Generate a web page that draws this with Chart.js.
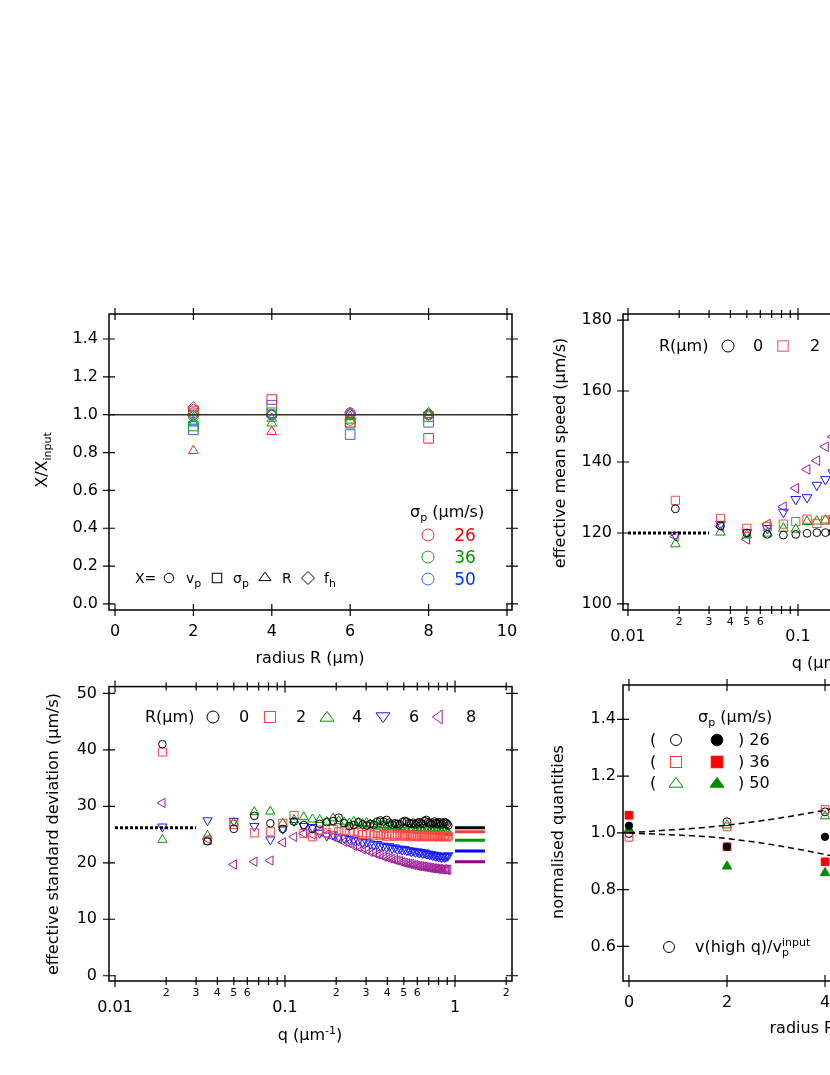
<!DOCTYPE html>
<html>
<head>
<meta charset="utf-8">
<title>Effective speed and deviation vs q and radius</title>
<script src="https://cdn.jsdelivr.net/npm/chart.js@4.4.1/dist/chart.umd.min.js"></script>
<style>
  html, body { margin: 0; padding: 0; background: #fff; }
  body { position: relative; width: 830px; height: 1075px; overflow: hidden; font-family: "DejaVu Sans", sans-serif; color: #000; }
  canvas { position: absolute; }
  .lab { position: absolute; white-space: nowrap; font-size: 16px; line-height: 1; }
  .c { transform: translate(-50%, -50%); }
  .l { transform: translate(0, -50%); }
  .rot { transform: translate(-50%, -50%) rotate(-90deg); }
  .lab sub, .lab sup { font-size: 11px; line-height: 0; }
  svg { display: block; }
</style>
</head>
<body>
<canvas id="panelA" width="540" height="400" style="left:0;top:280px"></canvas>
<canvas id="panelB" width="540" height="400" style="left:540px;top:280px"></canvas>
<canvas id="panelC" width="540" height="410" style="left:0;top:665px"></canvas>
<canvas id="panelD" width="540" height="410" style="left:540px;top:665px"></canvas>
<script>
// ---- panel A : X / X_input against radius
const radiusA = [2, 4, 6, 8];
const vp26 = [1.01, 1.00, 1.01, 1.00];
const vp36 = [0.99, 1.00, 0.97, 1.00];
const vp50 = [1.00, 1.00, 1.00, 1.00];
const sig26 = [1.02, 1.08, 0.96, 0.875];
const sig36 = [0.94, 1.01, 0.955, 0.99];
const sig50 = [0.92, 1.05, 0.895, 0.96];
const rad26 = [0.81, 0.91, 0.99, 1.00];
const rad36 = [0.955, 0.955, 0.97, 1.01];
const rad50 = [0.965, 0.98, 1.01, 1.00];
const fh26 = [1.03, 1.00, 1.01, 1.00];
const fh36 = [0.995, 1.00, 1.00, 1.00];
const fh50 = [1.04, 1.00, 1.00, 1.00];

// ---- q values shared by panels B and C
const qVals = [0.019, 0.035, 0.050, 0.066, 0.082, 0.097, 0.113, 0.129, 0.145, 0.160,
  0.176, 0.192, 0.207, 0.223, 0.239, 0.254, 0.270, 0.286, 0.302, 0.317,
  0.333, 0.349, 0.364, 0.380, 0.396, 0.411, 0.427, 0.443, 0.458, 0.474,
  0.490, 0.505, 0.521, 0.537, 0.553, 0.568, 0.584, 0.600, 0.615, 0.631,
  0.647, 0.662, 0.678, 0.694, 0.709, 0.725, 0.741, 0.756, 0.772, 0.788,
  0.803, 0.819, 0.835, 0.851, 0.866, 0.882, 0.898, 0.913];

// ---- panel B : effective mean speed (only the low-q part is in view)
const qMean = [0.019, 0.035, 0.050, 0.066, 0.082, 0.097, 0.113, 0.129, 0.145, 0.160];
const meanR0 = [126.8, 122.0, 120.0, 119.6, 119.4, 119.6, 119.9, 120.1, 120.1, 120.2];
const meanR2 = [129.2, 124.1, 121.3, 121.8, 122.5, 123.2, 123.9, 122.7, 123.6, 123.8];
const meanR4 = [116.9, 120.2, 119.4, 119.9, 121.3, 121.0, 123.2, 123.3, 123.6, 123.5];
const meanR6 = [119.4, 122.5, 120.2, 121.3, 125.9, 129.5, 130.0, 133.5, 135.1, 137.0];
const meanR8 = [119.0, 121.8, 118.2, 122.5, 127.4, 132.6, 137.9, 140.4, 144.3, 147.1];
const meanInput = 120;

// ---- panel C : effective standard deviation
const sdR0 = [41.0, 23.8, 26.0, 28.3, 27.0, 26.0, 27.3, 26.7, 26.0, 26.9,
  27.2, 27.4, 28.0, 27.0, 26.5, 26.7, 27.2, 26.8, 26.6, 26.9,
  26.7, 27.3, 27.5, 27.3, 27.6, 27.1, 26.8, 27.0, 26.9, 26.8,
  27.2, 27.4, 27.3, 27.0, 26.9, 27.1, 26.8, 27.0, 27.2, 27.0,
  26.9, 27.4, 27.6, 27.2, 27.0, 26.8, 27.1, 27.3, 27.0, 26.9,
  27.2, 27.1, 26.8, 27.0, 27.2, 27.1, 26.9, 26.6];
const sdR2 = [39.6, 24.0, 26.8, 25.3, 25.5, 27.0, 28.4, 25.2, 24.6, 25.8,
  25.3, 25.9, 25.5, 25.7, 25.2, 25.6, 25.4, 25.0, 25.3, 25.1,
  24.9, 25.2, 24.8, 25.0, 24.7, 25.1, 24.9, 24.7, 25.0, 24.8,
  24.9, 24.7, 25.0, 24.8, 24.6, 24.9, 24.7, 24.8, 24.6, 24.9,
  24.7, 24.8, 24.6, 24.9, 24.7, 24.8, 24.6, 24.8, 24.7, 24.9,
  24.6, 24.8, 24.7, 24.6, 24.8, 24.7, 24.6, 24.7];
const sdR4 = [24.1, 24.8, 27.1, 29.0, 29.1, 27.0, 27.6, 28.1, 27.7, 27.6,
  27.3, 27.9, 27.4, 27.2, 27.0, 27.3, 27.1, 26.9, 27.1, 26.8,
  26.7, 26.9, 26.6, 26.7, 26.4, 26.6, 26.3, 26.5, 26.2, 26.4,
  25.9, 26.1, 25.8, 26.0, 25.9, 26.1, 25.8, 26.0, 25.7, 25.9,
  25.8, 26.0, 25.7, 25.9, 25.6, 25.8, 25.7, 25.9, 25.6, 25.8,
  25.5, 25.7, 25.6, 25.8, 25.5, 25.7, 25.4, 25.3];
const sdR6 = [26.4, 27.5, 27.4, 26.5, 24.1, 26.0, 27.4, 26.5, 26.3, 25.3,
  24.8, 25.0, 24.6, 24.4, 24.2, 24.0, 23.9, 23.6, 23.7, 23.4,
  23.2, 23.3, 23.0, 23.0, 22.8, 22.9, 22.6, 22.7, 22.4, 22.5,
  22.3, 22.4, 22.2, 22.2, 22.0, 22.1, 21.9, 22.0, 21.8, 21.9,
  21.7, 21.8, 21.6, 21.6, 21.5, 21.5, 21.3, 21.4, 21.2, 21.3,
  21.1, 21.2, 21.0, 21.2, 21.0, 21.1, 21.2, 21.3];
const sdR8 = [30.6, 24.2, 19.7, 20.2, 20.4, 23.6, 24.6, 25.2, 25.0, 25.5,
  25.0, 24.6, 24.2, 23.7, 23.5, 23.0, 22.8, 22.4, 22.3, 21.9,
  21.8, 21.5, 21.4, 21.1, 21.0, 20.8, 20.7, 20.5, 20.4, 20.3,
  20.1, 20.0, 19.9, 19.8, 19.8, 19.6, 19.6, 19.5, 19.4, 19.4,
  19.3, 19.3, 19.2, 19.2, 19.1, 19.1, 19.0, 19.0, 19.0, 18.9,
  18.9, 18.9, 18.8, 18.8, 18.9, 18.8, 18.7, 18.8];
const sdInput = 26.2;
const qPlateau = [1, 1.5];
const sdPlateau = [26.2, 25.5, 24.0, 22.1, 20.2];   // R = 0, 2, 4, 6, 8

// ---- panel D : normalised quantities against radius
const radiusD = [0, 2, 4];
const vRatio26 = [0.998, 1.039, 1.074];
const vRatio36 = [0.984, 1.021, 1.082];
const vRatio50 = [1.010, 1.027, 1.059];
const sRatio26 = [1.025, 0.951, 0.986];
const sRatio36 = [1.062, 0.951, 0.898];
const sRatio50 = [1.013, 0.882, 0.859];
const guideR = [0, 2, 4, 6];
const guideUp = [1.0, 1.027, 1.08, 1.16];
const guideDown = [1.0, 0.98, 0.924, 0.84];

// ---- tick labels
const ticksAx = [0, 2, 4, 6, 8, 10];
const ticksAy = [0, 0.2, 0.4, 0.6, 0.8, 1.0, 1.2, 1.4];
const ticksQ = [0.01, 0.02, 0.03, 0.04, 0.05, 0.06, 0.07, 0.08, 0.09,
  0.1, 0.2, 0.3, 0.4, 0.5, 0.6, 0.7, 0.8, 0.9, 1, 2];
const ticksBy = [100, 120, 140, 160, 180];
const ticksCy = [0, 10, 20, 30, 40, 50];
const ticksDx = [0, 2, 4, 6, 8];
const ticksDy = [0.6, 0.8, 1.0, 1.2, 1.4];

Chart.defaults.font.family = '"DejaVu Sans", sans-serif';
Chart.defaults.color = '#000';

const isDecade = v => Math.abs(Math.log10(v) - Math.round(Math.log10(v))) < 1e-9;
function qLabel(v) {
  if (isDecade(v)) return ['', String(v)];
  const d = Math.round(v / Math.pow(10, Math.floor(Math.log10(v) + 1e-9)));
  return d <= 6 ? String(d) : '';
}

const pts = (xs, ys) => xs.map((x, i) => ({x: x, y: ys[i]}));

function marks(xs, ys, style, color, r, rot, filled) {
  return {
    data: pts(xs, ys), showLine: false, pointStyle: style, pointRadius: r, pointRotation: rot || 0,
    pointBorderColor: color, borderColor: color, pointBorderWidth: 1,
    pointBackgroundColor: filled ? color : 'rgba(0,0,0,0)'
  };
}
function line(xs, ys, color, width, dash) {
  return {
    data: pts(xs, ys), showLine: true, pointRadius: 0, borderColor: color, borderWidth: width,
    borderDash: dash || [], fill: false, borderCapStyle: 'butt'
  };
}

// box frame with crossing ticks on all four sides
const frame = {
  id: 'frame',
  afterDatasetsDraw(chart) {
    const {ctx, chartArea: a} = chart;
    const xs = chart.scales.x, ys = chart.scales.y;
    ctx.save();
    ctx.strokeStyle = '#000';
    ctx.lineWidth = 1.5;
    ctx.strokeRect(a.left, a.top, a.right - a.left, a.bottom - a.top);
    ctx.lineWidth = 1.2;
    ctx.beginPath();
    xs.ticks.forEach(t => {
      const p = xs.getPixelForValue(t.value);
      const h = t.major ? 6 : 4;
      ctx.moveTo(p, a.bottom - h); ctx.lineTo(p, a.bottom + h);
      ctx.moveTo(p, a.top - h); ctx.lineTo(p, a.top + h);
    });
    ys.ticks.forEach(t => {
      const p = ys.getPixelForValue(t.value);
      ctx.moveTo(a.left - 6, p); ctx.lineTo(a.left + 6, p);
      ctx.moveTo(a.right - 6, p); ctx.lineTo(a.right + 6, p);
    });
    ctx.stroke();
    ctx.restore();
  }
};

function panelOptions(c) {
  const logX = c.xType === 'logarithmic';
  return {
    responsive: false, animation: false, events: [],
    layout: {padding: {top: c.top, right: c.right, left: 0, bottom: 0}},
    plugins: {legend: {display: false}, tooltip: {enabled: false}},
    scales: {
      x: {
        type: c.xType || 'linear', position: 'bottom', min: c.xMin, max: c.xMax, bounds: 'data',
        grid: {display: false, drawTicks: false}, border: {display: false},
        afterBuildTicks: s => { s.ticks = c.xTicks.map(v => ({value: v, major: logX ? isDecade(v) : true})); },
        afterFit: s => { s.height = c.xH; },
        ticks: {
          autoSkip: false, maxRotation: 0, minRotation: 0, padding: c.xPad, color: '#000',
          font: logX ? (ctx => (ctx.tick && isDecade(ctx.tick.value)) ? {size: 16, lineHeight: '14px'} : {size: 11}) : {size: 16},
          callback: logX ? qLabel : c.xFmt
        }
      },
      y: {
        type: 'linear', position: 'left', min: c.yMin, max: c.yMax, bounds: 'data',
        grid: {display: false, drawTicks: false}, border: {display: false},
        afterBuildTicks: s => { s.ticks = c.yTicks.map(v => ({value: v, major: true})); },
        afterFit: s => { s.width = c.yW; },
        ticks: {autoSkip: false, padding: c.yPad, color: '#000', font: {size: 16}, callback: c.yFmt}
      }
    }
  };
}

const red = 'rgb(255,40,40)', green = 'rgb(20,160,20)', blue = 'rgb(50,100,255)';
const cBlack = '#000', cRed = 'rgb(255,70,70)', cGreen = 'rgb(0,150,0)', cBlue = 'rgb(25,25,255)', cPurple = 'rgb(160,30,150)';

// ---- panel A
new Chart(document.getElementById('panelA'), {
  type: 'scatter',
  data: {datasets: [
    line([-0.153, 10.128], [1, 1], '#333', 1.5),
    marks(radiusA, sig26, 'rect', red, 6.8), marks(radiusA, sig36, 'rect', green, 6.8), marks(radiusA, sig50, 'rect', blue, 6.8),
    marks(radiusA, rad26, 'triangle', red, 5.6), marks(radiusA, rad36, 'triangle', green, 5.6), marks(radiusA, rad50, 'triangle', blue, 5.6),
    marks(radiusA, vp26, 'circle', red, 5), marks(radiusA, vp36, 'circle', green, 5), marks(radiusA, vp50, 'circle', blue, 5),
    marks(radiusA, fh26, 'rectRot', red, 5.5), marks(radiusA, fh36, 'rectRot', green, 5.5), marks(radiusA, fh50, 'rectRot', blue, 5.5)
  ]},
  options: panelOptions({top: 34, right: 28, xH: 70, yW: 109, xMin: -0.153, xMax: 10.128, yMin: -0.032, yMax: 1.532,
    xTicks: ticksAx, yTicks: ticksAy, xPad: 12, yPad: 11, xFmt: v => String(v), yFmt: v => v.toFixed(1)}),
  plugins: [frame]
});

// ---- panel B
new Chart(document.getElementById('panelB'), {
  type: 'scatter',
  data: {datasets: [
    line([0.01, 0.03], [meanInput, meanInput], '#000', 3, [3, 2]),
    marks(qMean, meanR0, 'circle', cBlack, 3.9),
    marks(qMean, meanR2, 'rect', cRed, 5.8),
    marks(qMean, meanR4, 'triangle', cGreen, 5.6),
    marks(qMean, meanR6, 'triangle', cBlue, 5.6, 180),
    marks(qMean, meanR8, 'triangle', cPurple, 5.6, 270)
  ]},
  options: panelOptions({top: 34, right: 54, xH: 70, yW: 83, xType: 'logarithmic', xMin: 0.00935, xMax: 2.19,
    yMin: 98.3, yMax: 181.7, xTicks: ticksQ, yTicks: ticksBy, xPad: 6, yPad: 11, yFmt: v => String(v)}),
  plugins: [frame]
});

// ---- panel C
new Chart(document.getElementById('panelC'), {
  type: 'scatter',
  data: {datasets: [
    line([0.01, 0.03], [sdInput, sdInput], '#000', 3, [3, 2]),
    marks(qVals, sdR0, 'circle', cBlack, 3.8),
    marks(qVals, sdR2, 'rect', cRed, 5.7),
    marks(qVals, sdR4, 'triangle', cGreen, 5.3),
    marks(qVals, sdR6, 'triangle', cBlue, 5.3, 180),
    marks(qVals, sdR8, 'triangle', cPurple, 5.3, 270),
    line(qPlateau, [sdPlateau[0], sdPlateau[0]], '#000', 3),
    line(qPlateau, [sdPlateau[1], sdPlateau[1]], 'rgb(255,60,60)', 3),
    line(qPlateau, [sdPlateau[2], sdPlateau[2]], 'rgb(0,150,0)', 3),
    line(qPlateau, [sdPlateau[3], sdPlateau[3]], 'rgb(0,0,255)', 3),
    line(qPlateau, [sdPlateau[4], sdPlateau[4]], 'rgb(150,0,130)', 3)
  ]},
  options: panelOptions({top: 20, right: 28, xH: 94, yW: 109, xType: 'logarithmic', xMin: 0.00922, xMax: 2.164,
    yMin: -0.93, yMax: 51.2, xTicks: ticksQ, yTicks: ticksCy, xPad: 6, yPad: 12, yFmt: v => String(v)}),
  plugins: [frame]
});

// ---- panel D
new Chart(document.getElementById('panelD'), {
  type: 'scatter',
  data: {datasets: [
    Object.assign(line(guideR, guideUp, '#000', 1.5, [6, 4]), {cubicInterpolationMode: 'monotone'}),
    Object.assign(line(guideR, guideDown, '#000', 1.5, [6, 4]), {cubicInterpolationMode: 'monotone'}),
    marks(radiusD, sRatio26, 'circle', '#000', 3.7, 0, true),
    marks(radiusD, sRatio50, 'triangle', 'rgb(0,140,0)', 5.4, 0, true),
    marks(radiusD, sRatio36, 'rect', 'rgb(255,0,0)', 5.4, 0, true),
    marks(radiusD, vRatio36, 'rect', 'rgb(255,60,60)', 5.4),
    marks(radiusD, vRatio50, 'triangle', 'rgb(0,150,0)', 5.4),
    marks(radiusD, vRatio26, 'circle', '#000', 4)
  ]},
  options: panelOptions({top: 20, right: 54, xH: 94, yW: 83, xMin: -0.122, xMax: 8.1, yMin: 0.478, yMax: 1.521,
    xTicks: ticksDx, yTicks: ticksDy, xPad: 12, yPad: 7, xFmt: v => String(v), yFmt: v => v.toFixed(1)}),
  plugins: [frame]
});

// ---- text: axis titles and legends
function put(html, x, y, cls, css) {
  const d = document.createElement('div');
  d.className = 'lab ' + cls;
  d.style.left = x + 'px';
  d.style.top = y + 'px';
  if (css) d.style.cssText += css;
  d.innerHTML = html;
  document.body.appendChild(d);
}
function sym(shape, color, r, filled) {
  const s = Math.ceil(2 * r + 4), c = s / 2;
  const poly = a => '<polygon points="' + a.map(p => (c + p[0] * r).toFixed(2) + ',' + (c + p[1] * r).toFixed(2)).join(' ') + '"/>';
  let el;
  if (shape === 'circle') el = '<circle cx="' + c + '" cy="' + c + '" r="' + r + '"/>';
  else if (shape === 'square') el = '<rect x="' + (c - r) + '" y="' + (c - r) + '" width="' + 2 * r + '" height="' + 2 * r + '"/>';
  else if (shape === 'up') el = poly([[0, -0.8], [1, 0.6], [-1, 0.6]]);
  else if (shape === 'down') el = poly([[0, 0.8], [1, -0.6], [-1, -0.6]]);
  else if (shape === 'left') el = poly([[-0.8, 0], [0.6, -1], [0.6, 1]]);
  else el = poly([[0, -1], [1, 0], [0, 1], [-1, 0]]);
  return '<svg width="' + s + '" height="' + s + '"><g fill="' + (filled ? color : 'none') + '" stroke="' + color + '" stroke-width="1">' + el + '</g></svg>';
}

// axis titles
put('radius R (μm)', 310, 658, 'c');
put('X/X<sub>input</sub>', 42, 460, 'rot');
put('effective mean speed (μm/s)', 560, 453, 'rot');
put('q (μm<sup>-1</sup>)', 824, 663, 'c');
put('effective standard deviation (μm/s)', 53, 834, 'rot');
put('q (μm<sup>-1</sup>)', 310, 1035, 'c');
put('normalised quantities', 558, 832, 'rot');
put('radius R (μm)', 824, 1028, 'c');

// legend A
put('σ<sub>p</sub> (μm/s)', 410, 512, 'l');
put(sym('circle', 'rgb(255,40,40)', 6), 428, 535, 'c');
put(sym('circle', 'rgb(20,160,20)', 6), 428, 557, 'c');
put(sym('circle', 'rgb(50,100,255)', 6), 428, 579, 'c');
put('26', 465, 535, 'c', 'font-size:17px;color:rgb(255,0,0)');
put('36', 465, 557, 'c', 'font-size:17px;color:rgb(0,150,0)');
put('50', 465, 579, 'c', 'font-size:17px;color:rgb(0,50,255)');
put('X=', 135, 578, 'l', 'font-size:14px');
put(sym('circle', '#000', 4.7), 169, 578, 'c');
put('v<sub>p</sub>', 186, 578, 'l', 'font-size:14px');
put(sym('square', '#000', 4.7), 217, 578, 'c');
put('σ<sub>p</sub>', 233, 578, 'l', 'font-size:14px');
put(sym('up', '#000', 6), 265, 577, 'c');
put('R', 282, 578, 'l', 'font-size:14px');
put(sym('diamond', '#000', 6.5), 308, 578, 'c');
put('f<sub>h</sub>', 324, 578, 'l', 'font-size:14px');

// legend B
put('R(μm)', 659, 346, 'l');
put(sym('circle', '#000', 6), 728, 346, 'c');
put('0', 758, 346, 'c');
put(sym('square', 'rgb(255,70,70)', 5.2), 783, 346, 'c');
put('2', 815, 346, 'c');
put(sym('up', 'rgb(0,150,0)', 7), 841, 346, 'c');
put('4', 871, 346, 'c');

// legend C
put('R(μm)', 145, 717, 'l');
put(sym('circle', '#000', 6), 213, 717, 'c');
put('0', 244, 717, 'c');
put(sym('square', 'rgb(255,70,70)', 5.5), 270, 717, 'c');
put('2', 301, 717, 'c');
put(sym('up', 'rgb(0,150,0)', 7), 327, 717, 'c');
put('4', 357, 717, 'c');
put(sym('down', 'rgb(25,25,255)', 7), 383, 717, 'c');
put('6', 414, 717, 'c');
put(sym('left', 'rgb(160,30,150)', 7), 438, 717, 'c');
put('8', 471, 717, 'c');

// legend D
put('σ<sub>p</sub> (μm/s)', 698, 717, 'l');
const rowsD = [[740, 'circle', '#000', '#000', ') 26'], [762, 'square', 'rgb(255,60,60)', 'rgb(255,0,0)', ') 36'], [783, 'up', 'rgb(0,150,0)', 'rgb(0,140,0)', ') 50']];
rowsD.forEach(r => {
  put('(', 653, r[0], 'c');
  put(sym(r[1], r[2], r[1] === 'up' ? 7 : 5.5), 676, r[0], 'c');
  put(sym(r[1], r[3], r[1] === 'up' ? 7 : 5.8, true), 717, r[0], 'c');
  put(r[4], 738, r[0], 'l');
});
put(sym('circle', '#000', 5.5), 669, 947, 'c');
put('v(high q)/v<sub>p</sub><sup style="position:relative;left:-7px">input</sup>', 695, 947, 'l');
</script>
</body>
</html>
